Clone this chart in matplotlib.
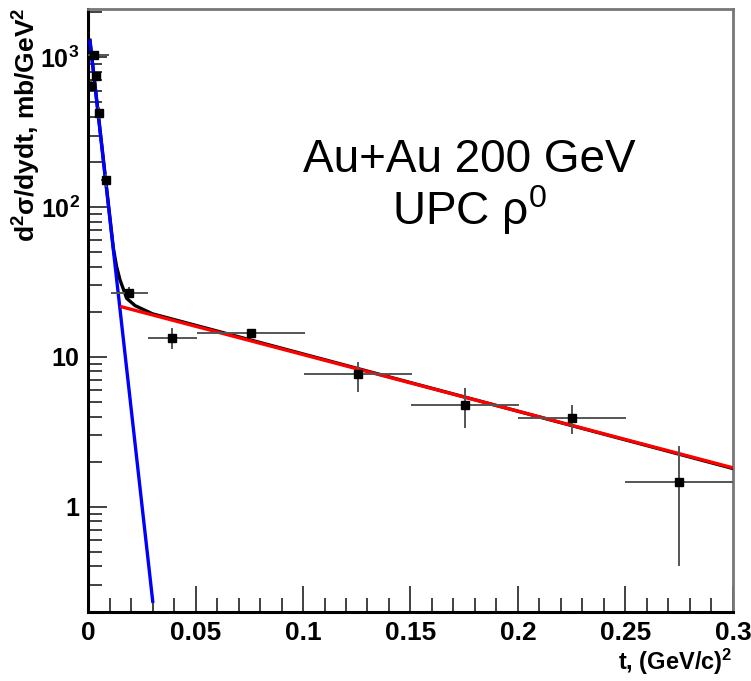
import matplotlib.pyplot as plt
from matplotlib.ticker import FixedLocator, FixedFormatter, NullFormatter

plt.rcParams['font.family'] = ['Liberation Sans', 'DejaVu Sans']
plt.rcParams['mathtext.fontset'] = 'custom'
plt.rcParams['mathtext.rm'] = 'Liberation Sans'
plt.rcParams['mathtext.bf'] = 'Liberation Sans:bold'
plt.rcParams['mathtext.it'] = 'Liberation Sans:italic'

# measured points: t, dsigma/dydt and errors
t_pts = [0.0014, 0.0029, 0.0037, 0.0053, 0.0084, 0.0192, 0.039, 0.0757,
         0.1256, 0.1753, 0.2251, 0.275]
y_pts = [640, 1030, 750, 425, 151, 26.7, 13.4, 14.5, 7.67, 4.79, 3.9, 1.475]
t_err_lo = [0.0014, 0.0029, 0.001, 0.001, 0.0023, 0.0085, 0.0113, 0.025,
            0.025, 0.025, 0.025, 0.025]
t_err_hi = [0.0014, 0.0068, 0.001, 0.001, 0.0023, 0.0085, 0.0118, 0.025,
            0.025, 0.025, 0.025, 0.025]
y_err_lo = [50, 60, 50, 40, 15, 1.5, 2.1, 0.7, 1.85, 1.41, 0.83, 1.075]
y_err_hi = [50, 60, 50, 40, 15, 2.8, 2.2, 0.8, 1.62, 1.40, 0.89, 1.085]

# fit curves
t_coh = [0.0009, 0.0301]
y_coh = [1285, 0.234]
t_inc = [0.0157, 0.3]
y_inc = [21.6, 1.82]
t_sum = [0.0009, 0.0118, 0.0133, 0.0149, 0.018, 0.0219, 0.03, 0.3]
y_sum = [1300, 53, 40, 32.6, 24.6, 22.0, 19.4, 1.80]

x_ticks = [0, 0.05, 0.1, 0.15, 0.2, 0.25, 0.3]
x_tick_labels = ['0', '0.05', '0.1', '0.15', '0.2', '0.25', '0.3']
y_ticks = [1, 10, 100, 1000]
y_tick_labels = ['1', '10', r'$\mathbf{10^{2}}$', r'$\mathbf{10^{3}}$']

fig = plt.figure(figsize=(7.51, 6.81), dpi=100)
ax = fig.add_axes([0.1172, 0.102, 0.976 - 0.1172, 0.9868 - 0.102])

ax.set_yscale('log')
ax.set_xlim(0, 0.3)
ax.set_ylim(0.2, 2100)

ax.plot(t_sum, y_sum, color='black', lw=2.4, zorder=3)
ax.plot(t_coh, y_coh, color='#0000ff', lw=2.4, zorder=4)
ax.plot(t_inc, y_inc, color='#ff0000', lw=2.4, zorder=4)

ax.errorbar(t_pts, y_pts, xerr=[t_err_lo, t_err_hi], yerr=[y_err_lo, y_err_hi],
            fmt='s', color='black', ms=6, ecolor='#555555', elinewidth=1.4,
            capsize=0, zorder=5)

ax.xaxis.set_major_locator(FixedLocator(x_ticks))
ax.xaxis.set_major_formatter(FixedFormatter(x_tick_labels))
ax.xaxis.set_minor_locator(FixedLocator([i * 0.01 for i in range(31)]))
ax.yaxis.set_major_locator(FixedLocator(y_ticks))
ax.yaxis.set_major_formatter(FixedFormatter(y_tick_labels))
minor_y = [m * 10 ** e for e in range(-1, 4) for m in range(2, 10)]
ax.yaxis.set_minor_locator(FixedLocator(minor_y))
ax.yaxis.set_minor_formatter(NullFormatter())

ax.tick_params(axis='both', which='both', direction='in', top=False, right=False,
               color='#333333', width=1.3)
ax.tick_params(axis='x', which='major', length=19, pad=7, labelsize=19)
ax.tick_params(axis='x', which='minor', length=10)
ax.tick_params(axis='y', which='major', length=14, pad=6, labelsize=18)
ax.tick_params(axis='y', which='minor', length=10)
for lbl in ax.get_xticklabels() + ax.get_yticklabels():
    lbl.set_fontweight('bold')

ax.spines['left'].set_linewidth(2.2)
ax.spines['bottom'].set_linewidth(2.2)
ax.spines['top'].set_color('#777777')
ax.spines['right'].set_color('#777777')
ax.spines['top'].set_linewidth(2)
ax.spines['right'].set_linewidth(2)

ax.set_xlabel(r't, (GeV/c)$^{\mathbf{2}}$', fontsize=17, fontweight='bold',
              loc='right', labelpad=1)
ax.set_ylabel(r'd$^{\mathbf{2}}$σ/dydt, mb/GeV$^{\mathbf{2}}$', fontsize=19,
              fontweight='bold', loc='top')
ax.yaxis.set_label_coords(-0.07, 1.003)

ax.text(0.591, 0.729, 'Au+Au 200 GeV', fontsize=33, ha='center',
        va='baseline', transform=ax.transAxes)
ax.text(0.591, 0.641, r'UPC ρ$^{0}$', fontsize=33, ha='center',
        va='baseline', transform=ax.transAxes)

fig.savefig('out.png', dpi=100)
